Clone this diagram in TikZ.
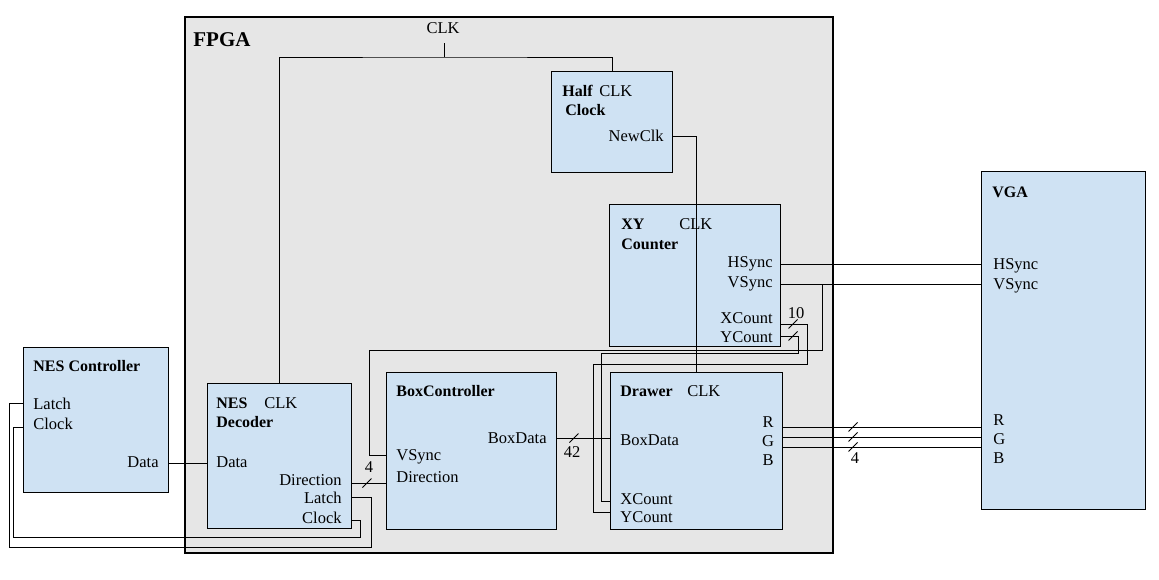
\documentclass[tikz,border=0pt]{standalone}
\usepackage{fontspec}
\setmainfont{Liberation Serif}
\definecolor{fpgagray}{RGB}{230,230,230}
\definecolor{blkblue}{RGB}{207,226,243}
\tikzset{
  blk/.style={draw, fill=blkblue, anchor=north west, inner sep=0pt, line width=1pt},
  lbl/.style={inner sep=0pt, font=\fontsize{16.5}{19}\selectfont},
  ttl/.style={inner sep=0pt, font=\fontsize{16}{19}\selectfont\bfseries}
}
\newcommand{\busslash}[2]{\draw (#1-4.5,#2+4.5) -- (#1+4.5,#2-4.5);}
\begin{document}
\begin{tikzpicture}[x=1pt, y=-1pt, line width=0.8pt]
    \useasboundingbox (0,0) rectangle (1159,579);

    % FPGA frame
    \node[draw, line width=1.8pt, fill=fpgagray, anchor=north west, inner sep=0pt,
          minimum width=648pt, minimum height=536pt] (fpga) at (184,16) {};
    \node[inner sep=0pt, anchor=west, font=\fontsize{21}{24}\selectfont\bfseries] (fpgat) at (193,40) {FPGA};

    % blocks
    \node[blk, minimum width=145pt, minimum height=145pt] (ctl) at (23,347) {};
    \node[blk, minimum width=144pt, minimum height=145pt] (nesd) at (207,383) {};
    \node[blk, minimum width=170pt, minimum height=157pt] (bc) at (386,372) {};
    \node[blk, minimum width=172pt, minimum height=157pt] (drw) at (610,372) {};
    \node[blk, minimum width=171pt, minimum height=142pt] (xy) at (609,204) {};
    \node[blk, minimum width=121pt, minimum height=101pt] (half) at (551,71) {};
    \node[blk, minimum width=164pt, minimum height=338pt] (vga) at (981,171) {};

    % NES Controller
    \node[ttl, anchor=west] (ctlt) at (33,366) {NES Controller};
    \node[lbl, anchor=west] (clat) at (33,404) {Latch};
    \node[lbl, anchor=west] (cclk) at (33,424) {Clock};
    \node[lbl, anchor=east] (cdat) at (159,462) {Data};

    % NES Decoder
    \node[ttl, anchor=west] (nest) at (216,403) {NES};
    \node[lbl, anchor=west] (nclkin) at (264,403) {CLK};
    \node[ttl, anchor=west] (nest2) at (216,422) {Decoder};
    \node[lbl, anchor=west] (ndat) at (216,462) {Data};
    \node[lbl, anchor=east] (ndir) at (342,480) {Direction};
    \node[lbl, anchor=east] (nlat) at (342,498) {Latch};
    \node[lbl, anchor=east] (nclk) at (342,518) {Clock};

    % BoxController
    \node[ttl, anchor=west] (bct) at (396,391) {BoxController};
    \node[lbl, anchor=east] (bcbd) at (547,438) {BoxData};
    \node[lbl, anchor=west] (bcvs) at (396,457) {VSync};
    \node[lbl, anchor=west] (bcdir) at (396,477) {Direction};

    % Drawer
    \node[ttl, anchor=west] (drwt) at (620,391) {Drawer};
    \node[lbl, anchor=west] (dclk) at (687,391) {CLK};
    \node[lbl] (dr) at (768,422) {R};
    \node[lbl] (dg) at (768,441) {G};
    \node[lbl] (db) at (768,460) {B};
    \node[lbl, anchor=west] (dbd) at (620,440) {BoxData};
    \node[lbl, anchor=west] (dxc) at (620,499) {XCount};
    \node[lbl, anchor=west] (dyc) at (620,517) {YCount};

    % XY Counter
    \node[ttl, anchor=west] (xyt) at (621,224) {XY};
    \node[lbl, anchor=west] (xyclk) at (679,224) {CLK};
    \node[ttl, anchor=west] (xyt2) at (621,244) {Counter};
    \node[lbl, anchor=east] (xyhs) at (773,264) {HSync};
    \node[lbl, anchor=east] (xyvs) at (773,284) {VSync};
    \node[lbl, anchor=east] (xyxc) at (773,318) {XCount};
    \node[lbl, anchor=east] (xyyc) at (773,337) {YCount};

    % Half Clock
    \node[ttl, anchor=west] (halft) at (562,91) {Half};
    \node[lbl, anchor=west] (hclk) at (599,91) {CLK};
    \node[ttl, anchor=west] (halft2) at (565,110) {Clock};
    \node[lbl, anchor=east] (hnew) at (664,136) {NewClk};

    % VGA
    \node[ttl, anchor=west] (vgat) at (992,192) {VGA};
    \node[lbl, anchor=west] (vhs) at (993,266) {HSync};
    \node[lbl, anchor=west] (vvs) at (993,286) {VSync};
    \node[lbl, anchor=west] (vr) at (993,420) {R};
    \node[lbl, anchor=west] (vg) at (993,439) {G};
    \node[lbl, anchor=west] (vb) at (993,458) {B};

    % clock tree
    \node[lbl] (clk) at (443,28) {CLK};
    \coordinate (clkj) at (444,57);
    \draw (clkj |- 0,43) -- (clkj);
    \draw (nesd.north west -| 279,0) |- (clkj) -| (half.north);
    \draw (half.east |- hnew) -| (drw.north);

    % sync lines
    \draw (xy.east |- 0,264) -- (vga.west |- 0,264);
    \draw (xy.east |- 0,284) -- (vga.west |- 0,284);
    \coordinate (vsj) at (822,284);
    \draw (vsj) |- (369,350) |- (bc.west |- 0,455);

    % counts (crossed over)
    \draw (xy.east |- 0,324) -| (807,364) -| (593,512) -- (drw.west |- 0,512);
    \draw (xy.east |- 0,336) -| (798,353) -| (601,501) -- (drw.west |- 0,501);
    \busslash{793}{324}
    \busslash{793}{336}
    \node[lbl] (w10) at (796,313) {10};

    % box data
    \draw (bc.east |- bcbd) -- (drw.west |- bcbd);
    \busslash{574}{438}
    \node[lbl] (w42) at (572,452) {42};

    % NES lines
    \draw (ctl.east |- 0,463) -- (nesd.west |- 0,463);
    \draw (nesd.east |- 0,483) -- (bc.west |- 0,483);
    \busslash{367}{483}
    \node[lbl] (w4a) at (369,467) {4};
    \draw (nesd.east |- 0,497) -| (371,547) -| (9,403) -- (ctl.west |- 0,403);
    \draw (nesd.east |- 0,520) -| (360,537) -| (13,427) -- (ctl.west |- 0,427);

    % colour lines
    \draw (drw.east |- 0,427) -- (vga.west |- 0,427);
    \draw (drw.east |- 0,437) -- (vga.west |- 0,437);
    \draw (drw.east |- 0,447) -- (vga.west |- 0,447);
    \busslash{853}{427}
    \busslash{853}{437}
    \busslash{853}{447}
    \node[lbl] (w4b) at (855,458) {4};
\end{tikzpicture}
\end{document}
